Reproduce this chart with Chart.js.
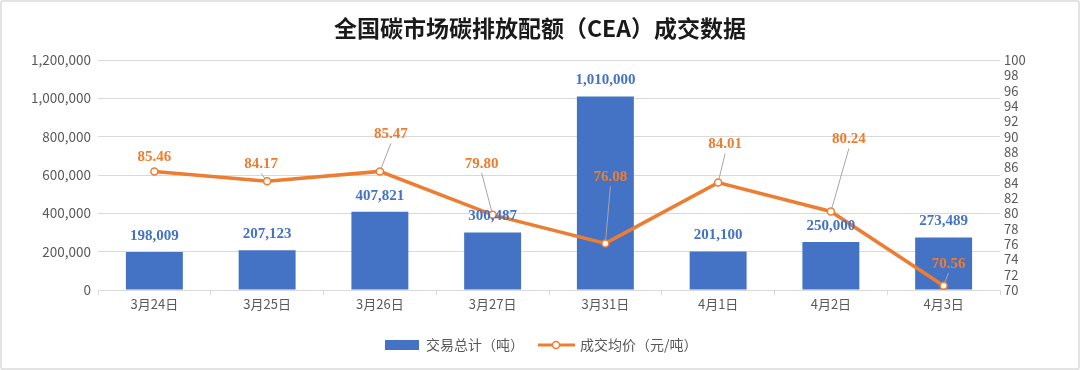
<!DOCTYPE html>
<html>
<head>
<meta charset="utf-8">
<script src="https://cdn.jsdelivr.net/npm/chart.js@4.4.0/dist/chart.umd.min.js"></script>
<style>
  html, body { margin: 0; padding: 0; background: #fff; }
  #wrap { position: relative; width: 1080px; height: 370px; box-sizing: border-box; border: 2px solid #e3e3e3; border-radius: 3px; }
  canvas { position: absolute; left: -2px; top: -2px; }
</style>
</head>
<body>
<div id="wrap"><canvas id="myChart" width="1080" height="370"></canvas></div>
<script>
// 日期
const categories = ["3月24日", "3月25日", "3月26日", "3月27日", "3月31日", "4月1日", "4月2日", "4月3日"];
// 交易总计（吨）
const volumes = [198009, 207123, 407821, 300487, 1010000, 201100, 250000, 273489];
// 成交均价（元/吨）
const prices = [85.46, 84.17, 85.47, 79.80, 76.08, 84.01, 80.24, 70.56];

const titleText = "全国碳市场碳排放配额（CEA）成交数据";
const seriesNames = ["交易总计（吨）", "成交均价（元/吨）"];

const BLUE = "#4472C4";
const ORANGE = "#ED7D31";
const CJK = '"Noto Sans CJK SC", sans-serif';
const SERIF = '"Liberation Serif", "Noto Sans CJK SC", serif';

// 价格标签相对数据点的偏移 [dx, dy, 是否画引导线]
const priceLabelOffset = [
    [0, -14, false], [-6, -17, true], [11, -37, true], [-11, -51, true],
    [5, -66, true], [7, -38, true], [18, -72, true], [5, -22, true]
];

const fmt = (v) => v.toLocaleString("en-US");

const extras = {
    id: "extras",
    afterDatasetsDraw(chart) {
        const ctx = chart.ctx;
        ctx.save();
        ctx.textAlign = "center";
        ctx.textBaseline = "middle";

        // 柱子标签
        ctx.font = "bold 15px " + SERIF;
        ctx.fillStyle = BLUE;
        chart.getDatasetMeta(0).data.forEach((bar, i) => {
            ctx.fillText(fmt(volumes[i]), bar.x, bar.y - 16);
        });

        // 折线标签 + 引导线
        chart.getDatasetMeta(1).data.forEach((pt, i) => {
            const o = priceLabelOffset[i];
            const lx = pt.x + o[0], ly = pt.y + o[1];
            if (o[2]) {
                const sx = lx, sy = ly + 9;
                const dx = pt.x - sx, dy = pt.y - sy;
                const len = Math.sqrt(dx * dx + dy * dy);
                ctx.beginPath();
                ctx.strokeStyle = "#a6a6a6";
                ctx.lineWidth = 1;
                ctx.moveTo(sx, sy);
                ctx.lineTo(pt.x - dx / len * 4, pt.y - dy / len * 4);
                ctx.stroke();
            }
            ctx.font = "bold 15px " + SERIF;
            ctx.fillStyle = ORANGE;
            ctx.fillText(prices[i].toFixed(2), lx, ly);
        });
        ctx.restore();
    },
    afterDraw(chart) {
        const ctx = chart.ctx;
        ctx.save();
        // 标题
        ctx.textAlign = "center";
        ctx.textBaseline = "middle";
        ctx.fillStyle = "#1a1a1a";
        ctx.font = "bold 23px " + CJK;
        ctx.fillText(titleText, 540, 28);

        // 图例
        const ly = 345;
        ctx.fillStyle = BLUE;
        ctx.fillRect(385, ly - 5, 34, 10);
        ctx.font = "14px " + CJK;
        ctx.fillStyle = "#595959";
        ctx.textAlign = "left";
        ctx.fillText(seriesNames[0], 426, ly);
        ctx.strokeStyle = ORANGE;
        ctx.lineWidth = 3;
        ctx.beginPath();
        ctx.moveTo(538, ly);
        ctx.lineTo(575, ly);
        ctx.stroke();
        ctx.beginPath();
        ctx.arc(556, ly, 3.5, 0, Math.PI * 2);
        ctx.fillStyle = "#fff";
        ctx.fill();
        ctx.lineWidth = 1.5;
        ctx.stroke();
        ctx.fillStyle = "#595959";
        ctx.fillText(seriesNames[1], 580, ly);
        ctx.restore();
    }
};

const ctx = document.getElementById("myChart");
const chart = new Chart(ctx, {
    data: {
        labels: categories,
        datasets: [{
            type: "bar",
            label: seriesNames[0],
            data: volumes,
            backgroundColor: BLUE,
            yAxisID: "y",
            categoryPercentage: 1,
            barPercentage: 0.505,
            order: 2
        }, {
            type: "line",
            label: seriesNames[1],
            data: prices,
            borderColor: ORANGE,
            borderWidth: 3.5,
            pointRadius: 3.5,
            pointBorderWidth: 1.5,
            pointBackgroundColor: "#fff",
            pointBorderColor: ORANGE,
            yAxisID: "y1",
            order: 1
        }]
    },
    options: {
        responsive: false,
        animation: false,
        layout: { padding: { top: 60, left: 0, right: 0, bottom: 0 } },
        plugins: {
            legend: { display: false },
            title: { display: false },
            tooltip: { enabled: false }
        },
        scales: {
            x: {
                grid: { offset: true, drawOnChartArea: false, tickLength: 5, color: "#d9d9d9" },
                border: { color: "#d9d9d9" },
                ticks: { color: "#595959", font: { family: CJK, size: 13 }, padding: 1 },
                afterFit: (s) => { s.height = 80; }
            },
            y: {
                position: "left",
                min: 0,
                max: 1200000,
                ticks: { stepSize: 200000, color: "#595959", font: { family: CJK, size: 13.5 }, padding: 7, callback: (v) => fmt(v) },
                grid: { color: "#d9d9d9", drawTicks: false },
                border: { display: false },
                afterFit: (s) => { s.width = 98; }
            },
            y1: {
                position: "right",
                min: 70,
                max: 100,
                ticks: { stepSize: 2, autoSkip: false, color: "#595959", font: { family: CJK, size: 13 }, padding: 4 },
                grid: { display: false, drawTicks: false },
                border: { display: false },
                afterFit: (s) => { s.width = 80; }
            }
        }
    },
    plugins: [extras]
});
</script>
</body>
</html>
